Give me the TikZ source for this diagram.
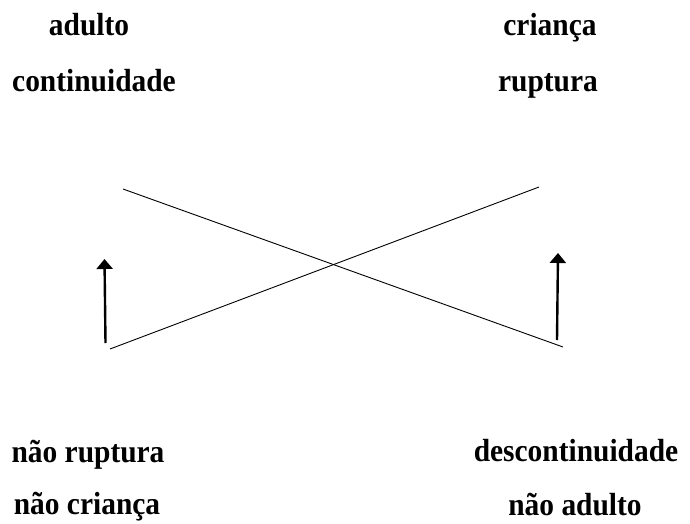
\documentclass[tikz,border=0pt]{standalone}
\usepackage{fontspec}
\setmainfont{Liberation Serif}
\newfontfamily\lblfont[FakeStretch=0.92]{Liberation Serif Bold}
\usetikzlibrary{arrows.meta}
\begin{document}
\begin{tikzpicture}[x=1pt,y=-1pt,
  lbl/.style={font=\lblfont\fontsize{32}{34}\selectfont, inner sep=0pt, anchor=base},
  thin line/.style={line width=0.9pt},
  up arrow/.style={line width=2.4pt, -{Triangle[length=10pt,width=16pt]}}]
\useasboundingbox (0,0) rectangle (690,524);
\node[lbl] (adulto) at (89,36) {adulto};
\node[lbl] (crianca) at (550,36) {criança};
\node[lbl] (cont) at (94,92) {continuidade};
\node[lbl] (rupt) at (548,92) {ruptura};
\node[lbl] (naorupt) at (88,462) {não ruptura};
\node[lbl] (descont) at (576,461) {descontinuidade};
\node[lbl] (naocrianca) at (87,514) {não criança};
\node[lbl] (naoadulto) at (575,515) {não adulto};
\coordinate (a1) at (123,189);
\coordinate (a2) at (563,347);
\coordinate (b1) at (110,349);
\coordinate (b2) at (539,187);
\draw[thin line] (a1) -- (a2);
\draw[thin line] (b1) -- (b2);
\coordinate (l0) at (105.5,343);
\coordinate (l1) at (104.5,259);
\coordinate (r0) at (557,340);
\coordinate (r1) at (558,253);
\draw[up arrow] (l0) -- (l1);
\draw[up arrow] (r0) -- (r1);
\end{tikzpicture}
\end{document}
